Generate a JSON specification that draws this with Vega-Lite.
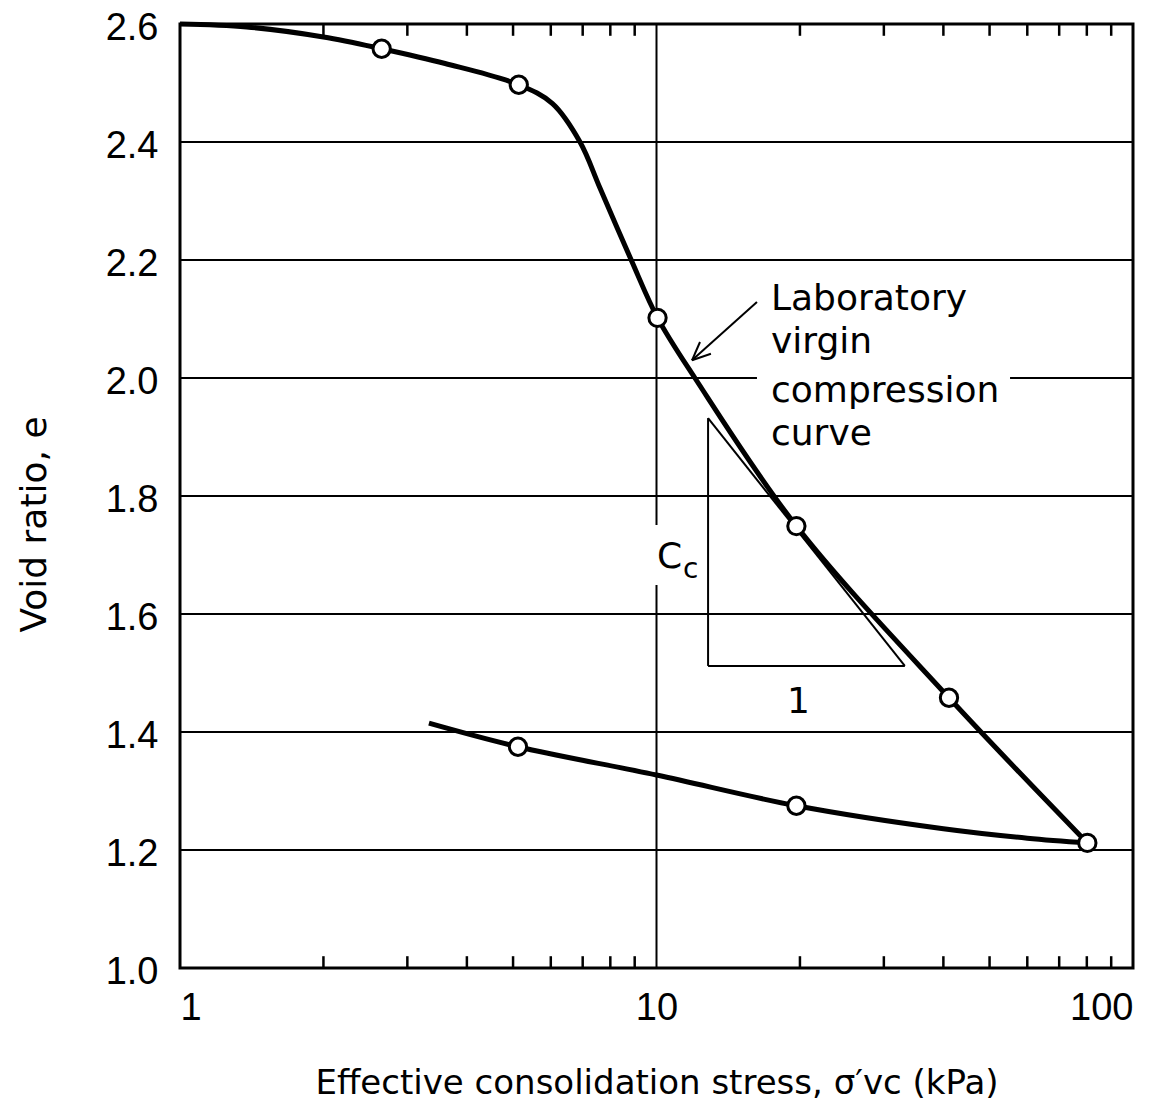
{
  "$schema": "https://vega.github.io/schema/vega-lite/v6.json",
  "width": 953,
  "height": 944,
  "autosize": {"type": "none"},
  "padding": {"left": 180, "top": 24, "right": 35, "bottom": 145},
  "background": "white",
  "config": {
    "view": {"stroke": "black", "strokeWidth": 3},
    "axis": {
      "grid": false,
      "domain": false,
      "ticks": false,
      "tickSize": 0,
      "labelFont": "Liberation Sans",
      "labelFontSize": 38,
      "labelColor": "black",
      "titleFont": "DejaVu Sans",
      "titleFontWeight": "normal",
      "titleColor": "black"
    }
  },
  "datasets": {
    "virgin": [
      {"s": 1, "e": 2.6}, {"s": 1.38, "e": 2.595}, {"s": 2.0, "e": 2.578},
      {"s": 2.65, "e": 2.558}, {"s": 3.6, "e": 2.533}, {"s": 5.14, "e": 2.497},
      {"s": 6.05, "e": 2.465}, {"s": 6.91, "e": 2.4}, {"s": 7.61, "e": 2.322},
      {"s": 8.85, "e": 2.2}, {"s": 10.05, "e": 2.102}, {"s": 12.04, "e": 2.0},
      {"s": 19.66, "e": 1.749},
      {"s": 41.1, "e": 1.458}, {"s": 80.2, "e": 1.212}
    ],
    "rebound": [
      {"s": 3.33, "e": 1.415}, {"s": 5.12, "e": 1.375}, {"s": 10, "e": 1.327},
      {"s": 19.66, "e": 1.275}, {"s": 40, "e": 1.236}, {"s": 60, "e": 1.22},
      {"s": 80.2, "e": 1.212}
    ],
    "points": [
      {"s": 2.65, "e": 2.558}, {"s": 5.14, "e": 2.497}, {"s": 10.05, "e": 2.102},
      {"s": 19.66, "e": 1.749}, {"s": 41.1, "e": 1.458}, {"s": 80.2, "e": 1.212},
      {"s": 5.12, "e": 1.375}, {"s": 19.66, "e": 1.275}
    ],
    "grid": [
      {"s": 1, "s2": 100, "e": 1.2, "e2": 1.2},
      {"s": 1, "s2": 100, "e": 1.4, "e2": 1.4},
      {"s": 1, "s2": 100, "e": 1.6, "e2": 1.6},
      {"s": 1, "s2": 100, "e": 1.8, "e2": 1.8},
      {"s": 1, "s2": 16.25, "e": 2.0, "e2": 2.0},
      {"s": 55.2, "s2": 100, "e": 2.0, "e2": 2.0},
      {"s": 1, "s2": 100, "e": 2.2, "e2": 2.2},
      {"s": 1, "s2": 100, "e": 2.4, "e2": 2.4},
      {"s": 10, "s2": 10, "e": 1.0, "e2": 1.649},
      {"s": 10, "s2": 10, "e": 1.751, "e2": 2.6}
    ],
    "ticks": [
      {"s": 2, "e": 1.0, "e2": 1.02}, {"s": 3, "e": 1.0, "e2": 1.02}, {"s": 4, "e": 1.0, "e2": 1.02},
      {"s": 5, "e": 1.0, "e2": 1.02}, {"s": 6, "e": 1.0, "e2": 1.02}, {"s": 7, "e": 1.0, "e2": 1.02},
      {"s": 8, "e": 1.0, "e2": 1.02}, {"s": 9, "e": 1.0, "e2": 1.02},
      {"s": 20, "e": 1.0, "e2": 1.02}, {"s": 30, "e": 1.0, "e2": 1.02}, {"s": 40, "e": 1.0, "e2": 1.02},
      {"s": 50, "e": 1.0, "e2": 1.02}, {"s": 60, "e": 1.0, "e2": 1.02}, {"s": 70, "e": 1.0, "e2": 1.02},
      {"s": 80, "e": 1.0, "e2": 1.02}, {"s": 90, "e": 1.0, "e2": 1.02},
      {"s": 2, "e": 2.6, "e2": 2.58}, {"s": 3, "e": 2.6, "e2": 2.58}, {"s": 4, "e": 2.6, "e2": 2.58},
      {"s": 5, "e": 2.6, "e2": 2.58}, {"s": 6, "e": 2.6, "e2": 2.58}, {"s": 7, "e": 2.6, "e2": 2.58},
      {"s": 8, "e": 2.6, "e2": 2.58}, {"s": 9, "e": 2.6, "e2": 2.58},
      {"s": 20, "e": 2.6, "e2": 2.58}, {"s": 30, "e": 2.6, "e2": 2.58}, {"s": 40, "e": 2.6, "e2": 2.58},
      {"s": 50, "e": 2.6, "e2": 2.58}, {"s": 60, "e": 2.6, "e2": 2.58}, {"s": 70, "e": 2.6, "e2": 2.58},
      {"s": 80, "e": 2.6, "e2": 2.58}, {"s": 90, "e": 2.6, "e2": 2.58}
    ],
    "thin": [
      {"s": 12.83, "s2": 12.83, "e": 1.932, "e2": 1.512},
      {"s": 12.83, "s2": 33.2, "e": 1.512, "e2": 1.512},
      {"s": 12.83, "s2": 33.2, "e": 1.932, "e2": 1.512},
      {"s": 16.25, "s2": 11.87, "e": 2.129, "e2": 2.03},
      {"s": 13.01, "s2": 11.87, "e": 2.041, "e2": 2.03},
      {"s": 12.34, "s2": 11.87, "e": 2.061, "e2": 2.03}
    ],
    "notes": [
      {"s": 17.39, "e": 2.115, "t": "Laboratory"},
      {"s": 17.39, "e": 2.042, "t": "virgin"},
      {"s": 17.39, "e": 1.959, "t": "compression"},
      {"s": 17.39, "e": 1.886, "t": "curve"},
      {"s": 18.79, "e": 1.432, "t": "1"},
      {"s": 10.02, "e": 1.678, "t": "C"}
    ],
    "subs": [
      {"s": 11.37, "e": 1.661, "t": "c"}
    ]
  },
  "encoding": {
    "x": {"field": "s", "type": "quantitative", "scale": {"type": "log", "domain": [1, 100]},
          "axis": {"values": [1, 10, 100], "format": "d", "labelPadding": 21,
                   "title": "Effective consolidation stress, σ′vc  (kPa)",
                   "titleFontSize": 34, "titleBaseline": "alphabetic", "titleY": 125}},
    "y": {"field": "e", "type": "quantitative", "scale": {"domain": [1.0, 2.6], "nice": false, "zero": false},
          "axis": {"values": [1.0, 1.2, 1.4, 1.6, 1.8, 2.0, 2.2, 2.4, 2.6], "format": ".1f", "labelPadding": 22,
                   "labelOffset": 4,
                   "title": "Void ratio, e", "titleFontSize": 36, "titleAngle": -90,
                   "titleBaseline": "alphabetic", "titleX": -135, "titleY": 500, "titleAlign": "center"}}
  },
  "layer": [
    {
      "data": {"name": "grid"},
      "mark": {"type": "rule", "color": "black", "strokeWidth": 2},
      "encoding": {"x2": {"field": "s2"}, "y2": {"field": "e2"}}
    },
    {
      "data": {"name": "ticks"},
      "mark": {"type": "rule", "color": "black", "strokeWidth": 2.5},
      "encoding": {"y2": {"field": "e2"}}
    },
    {
      "data": {"name": "thin"},
      "mark": {"type": "rule", "color": "black", "strokeWidth": 2},
      "encoding": {"x2": {"field": "s2"}, "y2": {"field": "e2"}}
    },
    {
      "data": {"name": "virgin"},
      "mark": {"type": "line", "color": "black", "strokeWidth": 5, "interpolate": "catmull-rom"},
      "encoding": {}
    },
    {
      "data": {"name": "rebound"},
      "mark": {"type": "line", "color": "black", "strokeWidth": 5, "interpolate": "catmull-rom"},
      "encoding": {}
    },
    {
      "data": {"name": "points"},
      "mark": {"type": "point", "shape": "circle", "filled": true, "fill": "white", "stroke": "black", "strokeWidth": 3, "size": 300, "opacity": 1}
    },
    {
      "data": {"name": "notes"},
      "mark": {"type": "text", "align": "left", "baseline": "alphabetic", "font": "DejaVu Sans", "fontSize": 36, "color": "black"},
      "encoding": {"text": {"field": "t"}}
    },
    {
      "data": {"name": "subs"},
      "mark": {"type": "text", "align": "left", "baseline": "alphabetic", "font": "DejaVu Sans", "fontSize": 28, "color": "black"},
      "encoding": {"text": {"field": "t"}}
    }
  ]
}
